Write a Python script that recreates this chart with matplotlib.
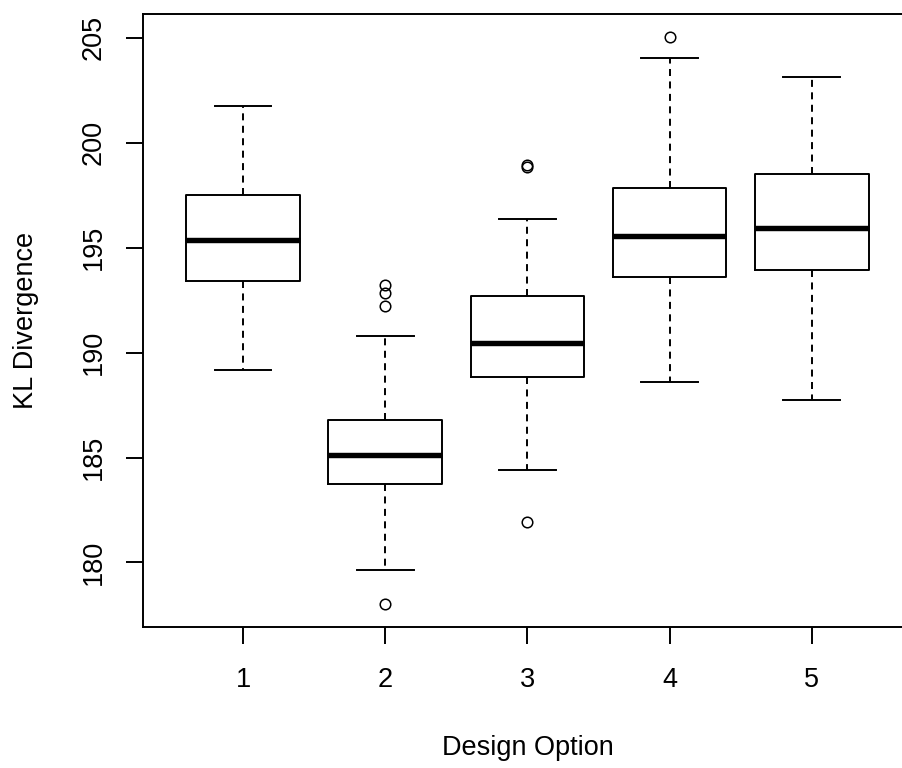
import matplotlib
matplotlib.use("Agg")
import matplotlib.pyplot as plt

# KL divergence summary per design option (five-number summaries + outliers)
options = ["1", "2", "3", "4", "5"]
medians = [195.38, 185.10, 190.45, 195.54, 195.95]
q1 = [193.39, 183.75, 188.83, 193.60, 193.94]
q3 = [197.49, 186.80, 192.68, 197.83, 198.53]
whisker_lo = [189.17, 179.64, 184.40, 188.58, 187.75]
whisker_hi = [201.74, 190.77, 196.38, 204.05, 203.11]
outliers = [[], [193.24, 192.84, 192.22, 178.02], [198.95, 198.82, 181.93], [205.05], []]
y_ticks = [180, 185, 190, 195, 200, 205]

plt.rcParams["font.family"] = ["Liberation Sans", "DejaVu Sans"]

stats = []
for i, name in enumerate(options):
    stats.append(dict(label=name, med=medians[i], q1=q1[i], q3=q3[i],
                      whislo=whisker_lo[i], whishi=whisker_hi[i],
                      fliers=outliers[i]))

fig = plt.figure(figsize=(9.03, 7.68), dpi=100)
ax = fig.add_axes([0.15891, 0.18398, 0.85028, 0.79779])

lw = 1.4
ax.bxp(stats, positions=range(1, len(options) + 1), widths=0.8, capwidths=0.4,
       boxprops=dict(color="black", linewidth=lw),
       medianprops=dict(color="black", linewidth=3.9, solid_capstyle="butt"),
       whiskerprops=dict(color="black", linewidth=lw, linestyle=(0, (3.6, 2.8))),
       capprops=dict(color="black", linewidth=lw),
       flierprops=dict(marker="o", markerfacecolor="none", markeredgecolor="black",
                       markersize=7.6, markeredgewidth=1.1, linestyle="none"),
       manage_ticks=False)

# axis ranges extended by 4% like base graphics
all_vals = whisker_lo + whisker_hi + [v for o in outliers for v in o]
lo, hi = min(all_vals), max(all_vals)
pad = 0.04 * (hi - lo)
ax.set_ylim(lo - pad, hi + pad)
ax.set_xlim(0.3, len(options) + 0.7)

ax.set_xticks(range(1, len(options) + 1))
ax.set_xticklabels(options)
ax.set_yticks(y_ticks)
ax.set_yticklabels([str(t) for t in y_ticks], rotation=90, va="center")

ax.tick_params(axis="both", direction="out", length=12.2, width=lw,
               color="black", labelsize=19.5)
ax.tick_params(axis="x", pad=17.0)
ax.tick_params(axis="y", pad=14.0)

for s in ax.spines.values():
    s.set_linewidth(lw)
    s.set_color("black")

ax.set_xlabel("Design Option", fontsize=19.5)
ax.set_ylabel("KL Divergence", fontsize=19.5)
ax.xaxis.set_label_coords(0.5, -0.1768)
ax.yaxis.set_label_coords(-0.136, 0.5)

fig.savefig("out.png", dpi=100)
